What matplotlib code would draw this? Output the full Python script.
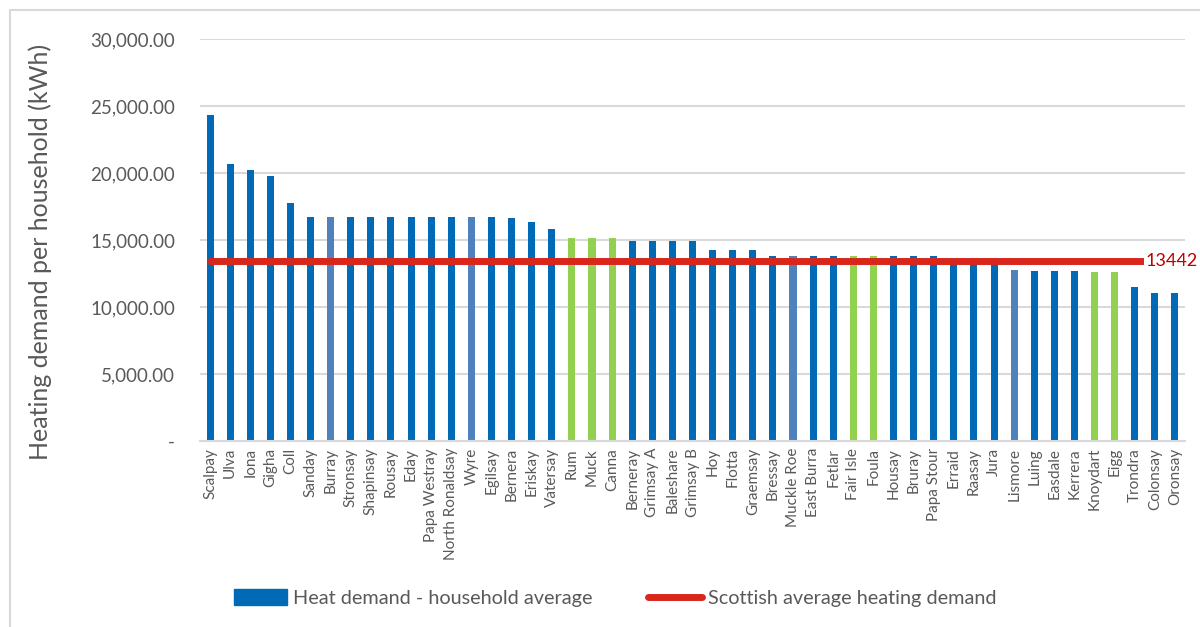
import numpy as np
import matplotlib.pyplot as plt
from matplotlib.patches import Patch, Rectangle
from matplotlib.lines import Line2D
from matplotlib.ticker import FuncFormatter

plt.rcParams['font.family'] = ['Lato', 'DejaVu Sans']

islands = ["Scalpay", "Ulva", "Iona", "Gigha", "Coll", "Sanday", "Burray", "Stronsay",
           "Shapinsay", "Rousay", "Eday", "Papa Westray", "North Ronaldsay", "Wyre",
           "Egilsay", "Bernera", "Eriskay", "Vatersay", "Rum", "Muck", "Canna", "Berneray",
           "Grimsay A", "Baleshare", "Grimsay B", "Hoy", "Flotta", "Graemsay", "Bressay",
           "Muckle Roe", "East Burra", "Fetlar", "Fair Isle", "Foula", "Housay", "Bruray",
           "Papa Stour", "Erraid", "Raasay", "Jura", "Lismore", "Luing", "Easdale",
           "Kerrera", "Knoydart", "Eigg", "Trondra", "Colonsay", "Oronsay"]
heat_demand = [24330, 20670, 20220, 19780, 17760, 16720, 16740, 16720,
               16720, 16720, 16740, 16720, 16720, 16740,
               16720, 16640, 16340, 15820, 15150, 15150, 15150, 14960,
               14960, 14960, 14950, 14220, 14220, 14220, 13780,
               13800, 13780, 13780, 13800, 13800, 13780, 13780,
               13820, 13350, 13300, 13250, 12760, 12690, 12690,
               12690, 12610, 12610, 11520, 11070, 11070]
# bar group: d = standard, l = lighter blue, g = green
group = ["d", "d", "d", "d", "d", "d", "l", "d",
         "d", "d", "d", "d", "d", "l",
         "d", "d", "d", "d", "g", "g", "g", "d",
         "d", "d", "d", "d", "d", "d", "d",
         "l", "d", "d", "g", "g", "d", "d",
         "d", "d", "d", "d", "l", "d", "d",
         "d", "g", "g", "d", "d", "d"]
scottish_avg = 13442

colours = {"d": "#006AB6", "l": "#4F81BD", "g": "#92D050"}
grey = "#595959"

fig = plt.figure(figsize=(12, 6.27), dpi=100)
ax = fig.add_axes([200 / 1200, 1 - 441 / 627, 985 / 1200, 402 / 627])

x = np.arange(len(islands))
ax.bar(x, heat_demand, width=0.35, color=[colours[g] for g in group], zorder=2)
ax.plot(x, [scottish_avg] * len(x), color="#D9261C", lw=5, zorder=3,
        solid_capstyle="round")
ax.text(46.55, scottish_avg, str(scottish_avg), color="#C00000", fontsize=13,
        va="center", ha="left", clip_on=False, zorder=4,
        bbox=dict(facecolor="white", edgecolor="none", pad=1))

ax.set_xlim(-0.5, len(x) - 0.5)
ax.set_ylim(0, 30000)
ax.set_yticks(np.arange(0, 30001, 5000))
ax.yaxis.set_major_formatter(FuncFormatter(lambda v, p: "-" if v == 0 else f"{v:,.2f}"))
ax.grid(axis="y", color="#D9D9D9", lw=1.5, zorder=0)
for s in ["top", "right", "left"]:
    ax.spines[s].set_visible(False)
ax.spines["bottom"].set_color("#D9D9D9")
ax.spines["bottom"].set_linewidth(1.5)
ax.tick_params(axis="y", length=0, pad=18, labelsize=13.5, labelcolor=grey)
ax.tick_params(axis="x", length=0, pad=5, labelsize=11, labelcolor=grey)
ax.set_xticks(x)
ax.set_xticklabels(islands, rotation=90)

fig.text(40 / 1200, 1 - 252 / 627, "Heating demand per household (kWh)", rotation=90,
         fontsize=18, color=grey, ha="center", va="center")

handles = [Patch(color=colours["d"]),
           Line2D([0], [0], color="#D9261C", lw=5, solid_capstyle="round")]
fig.legend(handles, ["Heat demand - household average", "Scottish average heating demand"],
           loc="center", bbox_to_anchor=(615 / 1200, 1 - 598 / 627), ncol=2, frameon=False,
           fontsize=14.3, labelcolor=grey, handlelength=2.7, handleheight=0.85,
           handletextpad=0.3, columnspacing=2.8)

fig.add_artist(Rectangle((10 / 1200, -0.1), 1.2, 1 - 10 / 627 + 0.1, transform=fig.transFigure,
                         fill=False, edgecolor="#D9D9D9", lw=1.5))

fig.savefig("out.png", dpi=100)
